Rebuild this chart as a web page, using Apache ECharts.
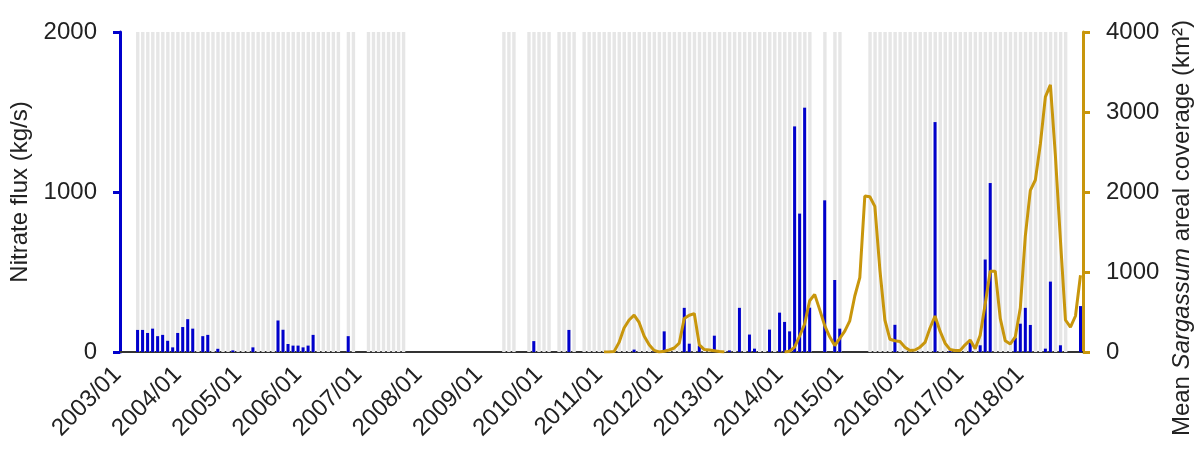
<!DOCTYPE html>
<html>
<head>
<meta charset="utf-8">
<script src="https://cdn.jsdelivr.net/npm/echarts@6/dist/echarts.min.js"></script>
<style>
  html, body { margin: 0; padding: 0; background: #fff; }
  #chatMain { width: 1194px; height: 449px; }
</style>
</head>
<body>
<div id="chatMain"></div>
<script>
// months with a monthly nitrate flux value (kg/s)
const nitrateMonths = [
  '2003/04', '2003/05', '2003/06', '2003/07', '2003/08', '2003/09', '2003/10', '2003/11', '2003/12',
  '2004/01', '2004/02', '2004/03', '2004/05', '2004/06', '2004/08', '2004/11', '2005/03',
  '2005/08', '2005/09', '2005/10', '2005/11', '2005/12', '2006/01', '2006/02', '2006/03', '2006/10',
  '2009/11', '2010/06', '2011/07', '2011/11', '2012/01', '2012/05', '2012/06', '2012/08', '2012/11',
  '2013/02', '2013/04', '2013/06', '2013/07', '2013/10', '2013/12', '2014/01', '2014/02', '2014/03',
  '2014/04', '2014/05', '2014/06', '2014/09', '2014/11', '2014/12', '2015/11', '2016/07', '2016/10',
  '2017/02', '2017/04', '2017/05', '2017/06', '2017/11', '2017/12', '2018/01', '2018/02', '2018/05',
  '2018/06', '2018/08', '2018/12'
];
const nitrateValues = [
  138, 138, 119, 146, 99, 107, 70, 29, 119,
  156, 205, 146, 99, 107, 20, 10, 29,
  197, 139, 50, 40, 40, 29, 40, 107, 99,
  68, 138, 15, 10, 129, 276, 52, 40, 102,
  10, 276, 109, 21, 140, 246, 188, 129, 1410,
  865, 1527, 277, 948, 450, 146, 170, 1437, 8,
  60, 42, 578, 1056, 89, 177, 276, 169, 21,
  440, 42, 287
];

// grey background stripes: months covered by the record
const recordRanges = [
  ['2003/04', '2006/08'], ['2006/10', '2006/11'], ['2007/02', '2007/09'],
  ['2009/05', '2009/07'], ['2009/10', '2010/02'], ['2010/04', '2010/07'],
  ['2010/09', '2014/06'], ['2014/09', '2014/09'], ['2014/11', '2014/12'],
  ['2015/06', '2018/09']
];

// mean Sargassum areal coverage (km2), monthly from 2011/01
const sargassumStart = '2011/01';
const sargassumValues = [
  0, 0, 5, 120, 300, 400, 460, 370, 200, 90, 20, 0,
  10, 25, 50, 110, 420, 460, 480, 90, 30, 25, 15, 5,
  0, null, null, null, null, null, null, null, null, null, null, null,
  0, 10, 60, 200, 350, 640, 720, 530, 330, 190, 80, 170,
  260, 390, 700, 930, 1950, 1940, 1820, 1030, 400, 160, 140, 130,
  60, 20, 25, 60, 120, 300, 450, 260, 110, 30, 20, 20,
  90, 150, 40, 210, 600, 1010, 1010, 420, 140, 100, 190, 550,
  1450, 2020, 2150, 2600, 3190, 3340, 2450, 1400, 400, 310, 450, 960
];

const yearFirst = 2003;
const yearLast = 2018;
const leftTicks = [0, 1000, 2000];
const rightTicks = [0, 1000, 2000, 3000, 4000];

const font = "'Liberation Sans', Arial, sans-serif";
const blue = '#0000cc';
const gold = '#c8960c';

// x categories, one per month
const months = [];
for (let y = yearFirst; y <= yearLast; y++) {
  for (let m = 1; m <= 12; m++) months.push(y + '/' + String(m).padStart(2, '0'));
}

const recordData = months.map(() => null);
recordRanges.forEach(([a, b]) => {
  for (let i = months.indexOf(a); i <= months.indexOf(b); i++) recordData[i] = leftTicks[leftTicks.length - 1];
});

const nitrateData = months.map(() => null);
nitrateMonths.forEach((mon, k) => { nitrateData[months.indexOf(mon)] = nitrateValues[k]; });

const sargassumData = months.map(() => null);
const s0 = months.indexOf(sargassumStart);
sargassumValues.forEach((v, k) => { sargassumData[s0 + k] = v; });

const yearTick = (i) => i % 12 === 0;
const plain = (v) => String(v);

const myechart = echarts.init(document.getElementById('chatMain'));
const option = {
  animation: false,
  textStyle: { fontFamily: font },
  grid: { left: 120, right: 111, top: 32, bottom: 97, outerBoundsMode: 'none', containLabel: false },
  xAxis: {
    type: 'category',
    data: months,
    boundaryGap: true,
    axisLine: { lineStyle: { color: '#333', width: 2 } },
    axisTick: { interval: yearTick, length: 7, lineStyle: { color: '#333', width: 2 } },
    axisLabel: {
      interval: yearTick, rotate: 45, margin: 14,
      padding: [0, 7, 0, 0],
      color: '#222', fontSize: 24, fontFamily: font
    },
    splitLine: { show: false }
  },
  yAxis: [
    {
      type: 'value',
      position: 'left',
      min: leftTicks[0], max: leftTicks[leftTicks.length - 1], interval: 1000,
      name: 'Nitrate flux (kg/s)',
      nameLocation: 'middle', nameRotate: 90, nameGap: 86,
      nameTextStyle: { color: '#222', fontSize: 24, fontFamily: font },
      axisLine: { show: true, lineStyle: { color: blue, width: 3 } },
      axisTick: { show: true, length: 7, lineStyle: { color: blue, width: 3 } },
      axisLabel: { color: '#222', fontSize: 24, margin: 23, fontFamily: font, formatter: plain },
      splitLine: { show: false }
    },
    {
      type: 'value',
      position: 'right',
      min: rightTicks[0], max: rightTicks[rightTicks.length - 1], interval: 1000,
      name: 'Mean {i|Sargassum} areal coverage (km²)',
      nameLocation: 'middle', nameRotate: 90, nameGap: 85,
      nameTextStyle: {
        color: '#222', fontSize: 24, fontFamily: font,
        padding: [0, 72, 0, 0],
        rich: { i: { fontStyle: 'italic', fontSize: 24, color: '#222', fontFamily: font } }
      },
      axisLine: { show: true, lineStyle: { color: gold, width: 3 } },
      axisTick: { show: true, length: 7, lineStyle: { color: gold, width: 3 } },
      axisLabel: { color: '#222', fontSize: 24, margin: 23, fontFamily: font, formatter: plain },
      splitLine: { show: false }
    }
  ],
  series: [
    {
      name: 'record',
      type: 'bar',
      yAxisIndex: 0,
      barWidth: 3.4,
      barGap: '-100%',
      silent: true,
      itemStyle: { color: '#e6e6e6' },
      data: recordData
    },
    {
      name: 'Nitrate flux',
      type: 'bar',
      yAxisIndex: 0,
      barWidth: 3,
      barGap: '-100%',
      itemStyle: { color: blue },
      data: nitrateData
    },
    {
      name: 'Sargassum',
      type: 'line',
      yAxisIndex: 1,
      showSymbol: false,
      connectNulls: false,
      lineStyle: { color: gold, width: 3 },
      itemStyle: { color: gold },
      data: sargassumData
    }
  ]
};
myechart.setOption(option);
</script>
</body>
</html>
